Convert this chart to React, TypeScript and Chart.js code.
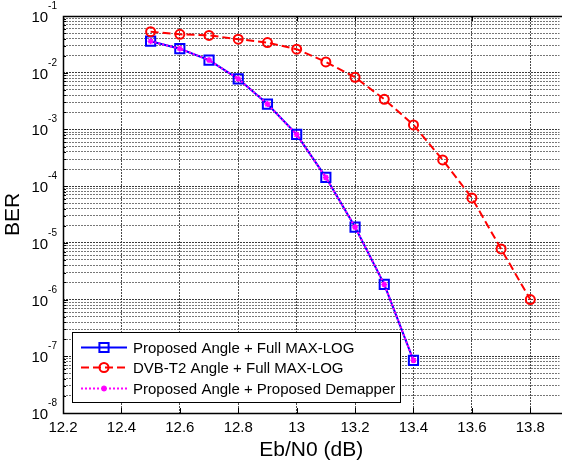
import React, { useEffect, useRef } from 'react';
import { Chart, registerables } from 'chart.js';

Chart.register(...registerables);

const FONT = '"Liberation Sans", Arial, Helvetica, sans-serif';

// Data
const ebn0Proposed = [12.5, 12.6, 12.7, 12.8, 12.9, 13.0, 13.1, 13.2, 13.3, 13.4];
const berProposedFull = [3.6e-2, 2.65e-2, 1.67e-2, 7.8e-3, 2.8e-3, 8.2e-4, 1.43e-4, 1.9e-5, 1.85e-6, 8.5e-8];
const berProposedDemapper = [3.6e-2, 2.65e-2, 1.67e-2, 7.8e-3, 2.8e-3, 8.1e-4, 1.42e-4, 1.9e-5, 1.85e-6, 8.5e-8];
const ebn0Dvb = [12.5, 12.6, 12.7, 12.8, 12.9, 13.0, 13.1, 13.2, 13.3, 13.4, 13.5, 13.6, 13.7, 13.8];
const berDvbFull = [5.3e-2, 4.75e-2, 4.55e-2, 3.9e-2, 3.4e-2, 2.6e-2, 1.55e-2, 8.3e-3, 3.4e-3, 1.2e-3, 2.9e-4, 6.2e-5, 7.8e-6, 1.0e-6];

const xTickValues = [12.2, 12.4, 12.6, 12.8, 13.0, 13.2, 13.4, 13.6, 13.8];
const yDecadeExponents = [-8, -7, -6, -5, -4, -3, -2, -1];
const seriesLabels = [
  'Proposed Angle + Full MAX-LOG',
  'DVB-T2 Angle + Full MAX-LOG',
  'Proposed Angle + Proposed Demapper',
];
const xTitle = 'Eb/N0 (dB)';
const yTitle = 'BER';

const X_MIN = 12.2;
const X_MAX = 13.9;

function buildLogTicks() {
  const ticks: { value: number; major: boolean }[] = [];
  for (let i = 0; i < yDecadeExponents.length - 1; i++) {
    const e = yDecadeExponents[i];
    for (let m = 1; m <= 9; m++) {
      ticks.push({ value: Number((m * Math.pow(10, e)).toPrecision(3)), major: m === 1 });
    }
  }
  ticks.push({ value: Math.pow(10, yDecadeExponents[yDecadeExponents.length - 1]), major: true });
  return ticks;
}

const toPoints = (xs: number[], ys: number[]) => xs.map((x, i) => ({ x, y: ys[i] }));

const decorPlugin = {
  id: 'decor',
  afterDraw(chart: any) {
    const { ctx, chartArea: a, scales } = chart;
    const xs = scales.x;
    const ys = scales.y;
    ctx.save();
    ctx.setLineDash([]);
    ctx.strokeStyle = '#000';
    ctx.lineWidth = 1;
    // inward tick marks
    ctx.beginPath();
    for (const v of xTickValues) {
      const px = Math.round(xs.getPixelForValue(v)) + 0.5;
      ctx.moveTo(px, a.bottom);
      ctx.lineTo(px, a.bottom - 5);
      ctx.moveTo(px, a.top);
      ctx.lineTo(px, a.top + 5);
    }
    for (const t of ys.ticks) {
      const py = Math.round(ys.getPixelForValue(t.value)) + 0.5;
      const len = t.major ? 5 : 3;
      ctx.moveTo(a.left, py);
      ctx.lineTo(a.left + len, py);
    }
    ctx.stroke();
    // frame
    ctx.lineWidth = 1.5;
    ctx.beginPath();
    ctx.moveTo(a.right + 5, a.top + 0.5);
    ctx.lineTo(a.left + 0.5, a.top + 0.5);
    ctx.lineTo(a.left + 0.5, a.bottom + 0.5);
    ctx.lineTo(a.right + 5, a.bottom + 0.5);
    ctx.stroke();

    // y tick labels 10^n
    ctx.fillStyle = '#000';
    ctx.textAlign = 'left';
    ctx.textBaseline = 'alphabetic';
    for (const e of yDecadeExponents) {
      const py = ys.getPixelForValue(Math.pow(10, e));
      const expStr = String(e);
      ctx.font = `10px ${FONT}`;
      const ew = ctx.measureText(expStr).width;
      ctx.font = `15px ${FONT}`;
      const bw = ctx.measureText('10').width;
      const x0 = a.left - 6 - ew - bw;
      ctx.fillText('10', x0, py + 6);
      ctx.font = `10px ${FONT}`;
      ctx.fillText(expStr, x0 + bw, py - 7);
    }

    // legend
    const bx = a.left + 9.5;
    const by = a.bottom - 80.5;
    const bw = 328;
    const bh = 70;
    ctx.fillStyle = '#fff';
    ctx.fillRect(bx, by, bw, bh);
    ctx.strokeStyle = '#000';
    ctx.lineWidth = 1;
    ctx.strokeRect(bx, by, bw, bh);
    const rows = [15, 35, 56];
    chart.data.datasets.forEach((ds: any, i: number) => {
      const y = by + rows[i];
      ctx.save();
      ctx.strokeStyle = ds.borderColor;
      ctx.lineWidth = ds.borderWidth;
      ctx.setLineDash(ds.borderDash || []);
      ctx.beginPath();
      ctx.moveTo(bx + 8.5, y);
      ctx.lineTo(bx + 54.5, y);
      ctx.stroke();
      ctx.setLineDash([]);
      const mx = bx + 31.5;
      ctx.strokeStyle = ds.pointBorderColor;
      ctx.lineWidth = ds.pointBorderWidth;
      ctx.beginPath();
      if (ds.pointStyle === 'rect') {
        const s = ds.pointRadius * Math.SQRT1_2;
        ctx.rect(mx - s, y - s, 2 * s, 2 * s);
      } else if (ds.pointStyle === 'circle') {
        ctx.arc(mx, y, ds.pointRadius, 0, Math.PI * 2);
      } else {
        const r = ds.pointRadius;
        ctx.moveTo(mx - r, y); ctx.lineTo(mx + r, y);
        ctx.moveTo(mx, y - r); ctx.lineTo(mx, y + r);
        const d = r * Math.SQRT1_2;
        ctx.moveTo(mx - d, y - d); ctx.lineTo(mx + d, y + d);
        ctx.moveTo(mx - d, y + d); ctx.lineTo(mx + d, y - d);
      }
      ctx.stroke();
      ctx.restore();
      ctx.fillStyle = '#000';
      ctx.font = `15px ${FONT}`;
      ctx.textBaseline = 'middle';
      ctx.textAlign = 'left';
      ctx.fillText(ds.label, bx + 60.5, y + 1);
    });
    ctx.restore();
  },
};

export default function App() {
  const ref = useRef<HTMLCanvasElement | null>(null);
  useEffect(() => {
    if (!ref.current) return;
    const chart = new Chart(ref.current, {
      type: 'line',
      data: {
        datasets: [
          {
            label: seriesLabels[0],
            data: toPoints(ebn0Proposed, berProposedFull),
            borderColor: '#0000ff',
            borderWidth: 2,
            pointStyle: 'rect',
            pointRadius: 6.5,
            pointBorderWidth: 2,
            pointBorderColor: '#0000ff',
            pointBackgroundColor: 'rgba(0,0,0,0)',
            tension: 0,
            order: 3,
          },
          {
            label: seriesLabels[1],
            data: toPoints(ebn0Dvb, berDvbFull),
            borderColor: '#ff0000',
            borderWidth: 2,
            borderDash: [8, 4],
            pointStyle: 'circle',
            pointRadius: 4.5,
            pointBorderWidth: 2,
            pointBorderColor: '#ff0000',
            pointBackgroundColor: 'rgba(0,0,0,0)',
            tension: 0,
            order: 2,
          },
          {
            label: seriesLabels[2],
            data: toPoints(ebn0Proposed, berProposedDemapper),
            borderColor: '#ff00ff',
            borderWidth: 2,
            borderDash: [2, 2],
            pointStyle: 'star',
            pointRadius: 3,
            pointBorderWidth: 1.5,
            pointBorderColor: '#ff00ff',
            pointBackgroundColor: '#ff00ff',
            tension: 0,
            order: 1,
          },
        ] as any,
      },
      options: {
        responsive: false,
        animation: false,
        events: [],
        layout: { padding: { top: 16, left: 0, right: 0, bottom: 0 } },
        plugins: { legend: { display: false }, tooltip: { enabled: false } },
        scales: {
          x: {
            type: 'linear',
            min: X_MIN,
            max: X_MAX,
            afterBuildTicks: (s: any) => {
              s.ticks = xTickValues.map((v) => ({ value: v }));
            },
            afterFit: (s: any) => {
              s.height = 48;
            },
            ticks: {
              autoSkip: false,
              maxRotation: 0,
              padding: 6,
              color: '#000',
              font: { family: FONT, size: 15 },
              callback: (v: any) => String(Number(Number(v).toFixed(1))),
            },
            grid: {
              drawTicks: false,
              color: '#4a4a4a',
              lineWidth: 1,
            },
            border: { display: false, dash: [2, 1] },
            title: {
              display: true,
              text: xTitle,
              color: '#000',
              font: { family: FONT, size: 21 },
              padding: { top: 0, bottom: -2 },
            },
          },
          y: {
            type: 'logarithmic',
            min: Math.pow(10, yDecadeExponents[0]),
            max: Math.pow(10, yDecadeExponents[yDecadeExponents.length - 1]),
            afterBuildTicks: (s: any) => {
              s.ticks = buildLogTicks();
            },
            afterFit: (s: any) => {
              s.width = 63;
            },
            ticks: { display: false, autoSkip: false },
            grid: {
              drawTicks: false,
              color: (c: any) => (c.tick && c.tick.major ? '#3c3c3c' : '#777'),
              lineWidth: 1,
            },
            border: { display: false, dash: [2, 1] },
            title: {
              display: true,
              text: yTitle,
              color: '#000',
              font: { family: FONT, size: 21 },
              padding: { top: 1, bottom: 0 },
            },
          },
        },
      } as any,
      plugins: [decorPlugin],
    });
    return () => chart.destroy();
  }, []);

  return (
    <div
      style={{
        position: 'fixed',
        left: 0,
        top: 0,
        width: 562,
        height: 461,
        overflow: 'hidden',
        background: '#fff',
      }}
    >
      <canvas ref={ref} width={568} height={461} style={{ display: 'block' }} />
    </div>
  );
}
